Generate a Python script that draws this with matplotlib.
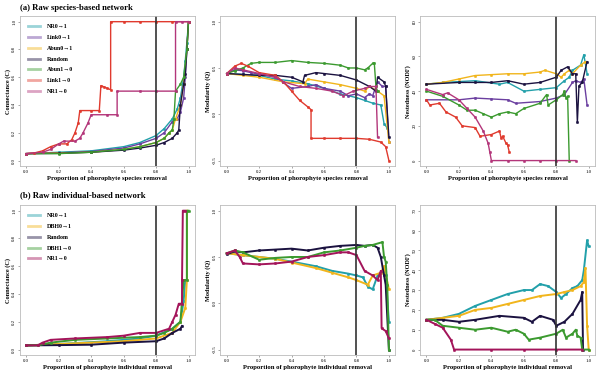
import matplotlib
matplotlib.use("Agg")
import matplotlib.pyplot as plt

plt.rcParams["font.family"] = ["Liberation Serif", "DejaVu Serif"]

TEAL = "#22a0aa"
PURPLE = "#6b3fa0"
YELLOW = "#f1b51c"
NAVY = "#1b1240"
GREEN = "#3b9a2f"
RED = "#e03a2e"
MAGENTA = "#b3367a"
CRIMSON = "#a3145a"

# ---- (a) species-based: connectance ----
a_conn_nr01 = ([0, .2, .4, .6, .7, .8, .85, .9, .93, .95, .97, .98, .99, 1.0],
               [.05, .06, .07, .1, .13, .18, .23, .3, .37, .45, .6, .72, .85, 1.0])
a_conn_link01 = ([0, .2, .4, .6, .7, .8, .85, .9, .93, .95, .97, .98, .99, 1.0],
                 [.05, .055, .065, .09, .12, .16, .2, .28, .3, .35, .45, .6, .8, 1.0])
a_conn_abun01 = ([0, .2, .4, .6, .7, .8, .85, .88, .9, .92, .95, .97, .99, 1.0],
                 [.05, .055, .06, .08, .1, .13, .16, .2, .22, .3, .4, .55, .8, 1.0])
a_conn_random = ([0, .2, .4, .6, .7, .8, .85, .9, .93, .94, .95, .97, .98, .99, 1.0],
                 [.05, .052, .06, .075, .09, .11, .13, .16, .2, .22, .4, .55, .62, .8, 1.0])
a_conn_abun10 = ([0, .2, .4, .6, .7, .8, .85, .88, .9, .91, .92, .95, .97, .99, 1.0],
                 [.05, .05, .06, .08, .1, .13, .16, .2, .22, .3, .5, .55, .6, .8, 1.0])
a_conn_link10 = ([0, .05, .1, .15, .2, .25, .28, .3, .32, .33, .4, .45, .46, .48, .5, .52, .52, .6, .7, .8, .9, 1.0],
                 [.05, .055, .07, .1, .12, .12, .15, .2, .27, .36, .36, .36, .54, .53, .52, .51, 1.0, 1.0, 1.0, 1.0, 1.0, 1.0])
a_conn_nr10 = ([0, .1, .15, .2, .23, .3, .33, .35, .38, .4, .5, .56, .56, .7, .8, .92, .92, .96, 1.0],
               [.05, .06, .08, .12, .14, .14, .16, .2, .27, .33, .33, .33, .5, .5, .5, .5, 1.0, 1.0, 1.0])

# ---- (a) species-based: modularity ----
a_mod_nr01 = ([0, .1, .2, .3, .4, .5, .6, .7, .8, .85, .9, .95, .97, .99],
              [.44, .43, .42, .38, .36, .33, .28, .22, .18, .15, .12, .1, -.1, -.15])
a_mod_link01 = ([0, .05, .1, .15, .3, .4, .5, .55, .6, .7, .75, .8, .85, .88, .9, .93, .96, .98, 1.0],
                [.44, .48, .47, .45, .4, .28, .3, .32, .28, .25, .2, .22, .18, .22, .2, .35, .3, .3, -.3])
a_mod_abun01 = ([0, .1, .2, .35, .48, .5, .6, .7, .8, .85, .88, .93, .97, 1.0],
                [.44, .42, .4, .35, .33, .38, .35, .32, .28, .25, .3, .25, .2, -.3])
a_mod_random = ([0, .1, .2, .3, .4, .47, .48, .55, .6, .7, .8, .88, .92, .93, .97, .98, 1.0],
                [.44, .43, .42, .42, .4, .35, .42, .45, .44, .42, .37, .3, .25, .4, .35, .3, -.25])
a_mod_abun10 = ([0, .05, .1, .15, .2, .3, .4, .5, .6, .7, .75, .8, .85, .87, .9, .91, .92, .93],
                [.44, .47, .5, .55, .56, .56, .58, .56, .55, .53, .5, .5, .48, .5, .55, .55, .3, .25])
a_mod_link10 = ([0, .05, .09, .13, .2, .3, .35, .4, .45, .5, .52, .52, .6, .7, .8, .88, .95, .98, 1.0],
                [.44, .52, .55, .52, .45, .42, .35, .25, .15, .08, .05, -.26, -.26, -.26, -.26, -.27, -.3, -.35, -.5])
a_mod_nr10 = ([0, .05, .1, .2, .3, .35, .45, .55, .65, .72, .78, .85, .88, .92, .93],
              [.44, .5, .48, .44, .4, .35, .3, .28, .25, .2, .25, .28, .3, .3, -.25])

# ---- (a) species-based: nestedness ----
a_nest_nr01 = ([0, .1, .2, .3, .45, .5, .6, .7, .8, .85, .88, .9, .95, .97, .99],
               [44, 45, 45.5, 46, 44, 45, 40, 41, 42, 46, 48, 52, 55, 61, 50])
a_nest_link01 = ([0, .2, .3, .4, .5, .55, .7, .8, .85, .9, .92, .95, .97, .99],
                 [35, 35, 36, 35.5, 35, 33, 34, 36, 38, 45, 46, 45, 47, 32])
a_nest_abun01 = ([0, .1, .2, .3, .4, .5, .6, .7, .73, .8, .83, .85, .88, .9, .95, .98],
                 [44, 45, 47, 49, 49.5, 50, 50, 51, 52, 50, 48, 50, 52, 50, 55, 57])
a_nest_random = ([0, .2, .3, .4, .5, .6, .7, .8, .83, .87, .9, .92, .93, .94, .96, .99],
                 [44, 45, 45, 45, 46, 44, 45, 48, 52, 54, 50, 50, 22, 43, 45, 57])
a_nest_abun10 = ([0, .1, .2, .25, .3, .35, .4, .45, .5, .55, .6, .7, .74, .75, .8, .84, .85, .86, .87, .88],
                 [40, 37, 32, 29, 29, 27, 25, 27, 28, 27, 30, 33, 38, 32, 35, 38, 40, 36, 37, 0])
a_nest_link10 = ([0, .02, .08, .12, .18, .22, .3, .33, .4, .45, .46, .47, .49, .5, .51],
                 [35, 32, 33, 28, 25, 20, 19, 14, 15, 17, 13, 14, 10, 9, 5])
a_nest_nr10 = ([0, .1, .13, .2, .25, .3, .35, .38, .39, .4, .5, .6, .7, .8, .92],
               [41, 38, 39, 35, 30, 25, 17, 10, 5, 0, 0, 0, 0, 0, 0])

# ---- (b) individual-based: connectance ----
b_conn_nr01 = ([0, .2, .5, .7, .8, .9, .95, .97, .98],
               [.03, .04, .06, .08, .1, .15, .2, .35, .5])
b_conn_dbh01 = ([0, .2, .4, .6, .8, .9, .95, .98, .99, .99],
                [.03, .04, .05, .06, .08, .12, .2, .3, .5, 1.0])
b_conn_random = ([0, .2, .4, .6, .8, .85, .9, .95, .96],
                 [.03, .032, .035, .05, .06, .08, .12, .15, .17])
b_conn_dbh10 = ([0, .07, .15, .3, .5, .7, .8, .85, .9, .95, .97, .99, .99, 1.0],
                [.03, .03, .05, .07, .08, .09, .1, .12, .15, .2, .5, .5, 1.0, 1.0])
b_conn_nr10 = ([0, .07, .1, .15, .3, .5, .6, .7, .8, .88, .9, .92, .94, .96, .96, .965, .98],
               [.03, .03, .05, .07, .08, .09, .1, .12, .12, .15, .2, .25, .33, .33, .5, 1.0, 1.0])

# ---- (b) individual-based: modularity ----
b_mod_nr01 = ([0, .1, .3, .4, .55, .65, .75, .8, .84, .87, .9, .93, .97, .98, 1.0],
              [.54, .52, .48, .45, .4, .35, .32, .3, .28, .18, .15, .3, .35, .3, -.2])
b_mod_dbh01 = ([0, .1, .3, .4, .55, .65, .75, .8, .87, .9, .95, .97, 1.0],
               [.54, .52, .48, .44, .38, .33, .28, .25, .2, .3, .33, .4, .15])
b_mod_random = ([0, .05, .1, .2, .3, .4, .5, .6, .7, .8, .85, .9, .93, .95, .97, .98, 1.0],
                [.53, .56, .55, .57, .58, .59, .57, .6, .62, .63, .62, .63, .6, .5, .3, .2, -.5])
b_mod_dbh10 = ([0, .05, .1, .2, .3, .4, .5, .6, .7, .8, .85, .9, .96, .97, .98, .99, 1.0],
               [.54, .57, .55, .47, .49, .5, .5, .55, .57, .6, .62, .63, .66, .5, .45, .2, -.5])
b_mod_nr10 = ([0, .05, .08, .1, .2, .3, .4, .5, .6, .7, .75, .8, .85, .9, .93, .95, .955, .98, 1.0],
              [.54, .57, .5, .43, .42, .43, .45, .5, .52, .55, .55, .52, .35, .3, .25, .35, -.27, -.3, -.38])

# ---- (b) individual-based: nestedness ----
b_nest_nr01 = ([0, .1, .2, .3, .4, .5, .6, .65, .7, .75, .8, .83, .86, .9, .93, .96, .97, .99, 1.0],
               [15, 16, 18, 22, 25, 28, 30, 30, 33, 32, 29, 26, 28, 31, 32, 35, 40, 55, 52])
b_nest_dbh01 = ([0, .1, .2, .3, .4, .5, .6, .7, .8, .85, .9, .95, .97, .98, .99, 1.0],
                [15, 16, 17, 20, 21, 23, 25, 27, 28, 29, 30, 32, 34, 41, 12, 0])
b_nest_random = ([0, .1, .2, .3, .45, .6, .65, .7, .78, .8, .85, .9, .95, .96, .965],
                 [15, 15, 14, 15, 17, 16, 14, 17, 15, 12, 14, 18, 25, 29, 0])
b_nest_dbh10 = ([0, .05, .1, .2, .3, .4, .5, .55, .6, .63, .7, .8, .84, .86, .9, .92, .93, .95, .96, 1.0],
                [15, 15, 12, 11, 10, 11, 9, 10, 8, 5, 6, 8, 10, 6, 8, 10, 7, 6, 0, 0])
b_nest_nr10 = ([0, .05, .1, .15, .17, .4, .6, .8, .96],
               [15, 13, 11, 5, 0, 0, 0, 0, 0])

labels_a = ["NR0\u21921", "Link0\u21921", "Abun0\u21921", "Random",
            "Abun1\u21920", "Link1\u21920", "NR1\u21920"]
colors_a = [TEAL, PURPLE, YELLOW, NAVY, GREEN, RED, MAGENTA]
labels_b = ["NR0\u21921", "DBH0\u21921", "Random", "DBH1\u21920", "NR1\u21920"]
colors_b = [TEAL, YELLOW, NAVY, GREEN, CRIMSON]

panels = [
    # (row, col, series, colors, ylabel, ylim, yticks, kind)
    (0, 0, [a_conn_nr01, a_conn_link01, a_conn_abun01, a_conn_random, a_conn_abun10, a_conn_link10, a_conn_nr10],
     colors_a, "Connectance (C)", (0, 1), [0, .2, .4, .6, .8, 1.0], "species"),
    (0, 1, [a_mod_nr01, a_mod_link01, a_mod_abun01, a_mod_random, a_mod_abun10, a_mod_link10, a_mod_nr10],
     colors_a, "Modularity (Q)", (-.5, 1), [-.5, 0, .5, 1.0], "species"),
    (0, 2, [a_nest_nr01, a_nest_link01, a_nest_abun01, a_nest_random, a_nest_abun10, a_nest_link10, a_nest_nr10],
     colors_a, "Nestedness (NODF)", (0, 80), [0, 20, 40, 60, 80], "species"),
    (1, 0, [b_conn_nr01, b_conn_dbh01, b_conn_random, b_conn_dbh10, b_conn_nr10],
     colors_b, "Connectance (C)", (0, 1), [0, .2, .4, .6, .8, 1.0], "individual"),
    (1, 1, [b_mod_nr01, b_mod_dbh01, b_mod_random, b_mod_dbh10, b_mod_nr10],
     colors_b, "Modularity (Q)", (-.5, 1), [-.5, 0, .5, 1.0], "individual"),
    (1, 2, [b_nest_nr01, b_nest_dbh01, b_nest_random, b_nest_dbh10, b_nest_nr10],
     colors_b, "Nestedness (NODF)", (0, 70), [0, 10, 20, 30, 40, 50, 60, 70], "individual"),
]

fig = plt.figure(figsize=(6, 3.75), dpi=100)
lefts = [0.033, 0.367, 0.70]
bottoms = [0.557, 0.053]
w, h = 0.292, 0.40

tick_fmt = {(0, 1): lambda v: f"{v:.1f}", (0, 80): lambda v: f"{v:g}", (0, 70): lambda v: f"{v:g}",
            (-.5, 1): lambda v: f"{v:.1f}"}

for row, col, series, cols, ylab, ylim, yticks, kind in panels:
    ax = fig.add_axes([lefts[col], bottoms[row], w, h])
    lw = 1.0 if row == 0 else 1.4
    for (xs, ys), c in zip(series, cols):
        ax.plot(xs, ys, color=c, lw=lw, marker="o", ms=1.8, mew=0.3)
    ax.axvline(0.8, color="#333333", lw=1.2)
    pad = (ylim[1] - ylim[0]) * 0.04
    ax.set_ylim(ylim[0] - pad, ylim[1] + pad)
    ax.set_xlim(-0.04, 1.04)
    ax.set_xticks([0, .2, .4, .6, .8, 1.0])
    ax.set_xticklabels([f"{v:.1f}" for v in [0, .2, .4, .6, .8, 1.0]])
    ax.set_yticks(yticks)
    ax.set_yticklabels([tick_fmt[ylim](v) for v in yticks], rotation=90, va="center")
    ax.tick_params(labelsize=3.5, length=1.5, width=0.4, pad=1, color="#666666")
    for s in ax.spines.values():
        s.set_color("#bbbbbb")
        s.set_linewidth(0.6)
    ax.set_ylabel(ylab, fontsize=4.5, fontweight="bold", labelpad=1)
    ax.set_xlabel(f"Proportion of phorophyte {kind} removal", fontsize=4.8,
                  fontweight="bold", labelpad=1.5)
    if col == 0:
        labs = labels_a if row == 0 else labels_b
        for lab, c in zip(labs, cols):
            ax.plot([], [], color=c, lw=2, alpha=0.45, label=lab)
        ax.legend(loc="upper left", frameon=False,
                  prop={"weight": "bold", "size": 4.3}, handlelength=2.0,
                  labelspacing=0.95, borderaxespad=0.9, handletextpad=1.3)

fig.text(0.033, 0.978, "(a) Raw species-based network", fontsize=6.2,
         fontweight="bold", va="center")
fig.text(0.033, 0.48, "(b) Raw individual-based network", fontsize=6.2,
         fontweight="bold", va="center")

fig.savefig("out.png", dpi=100)
